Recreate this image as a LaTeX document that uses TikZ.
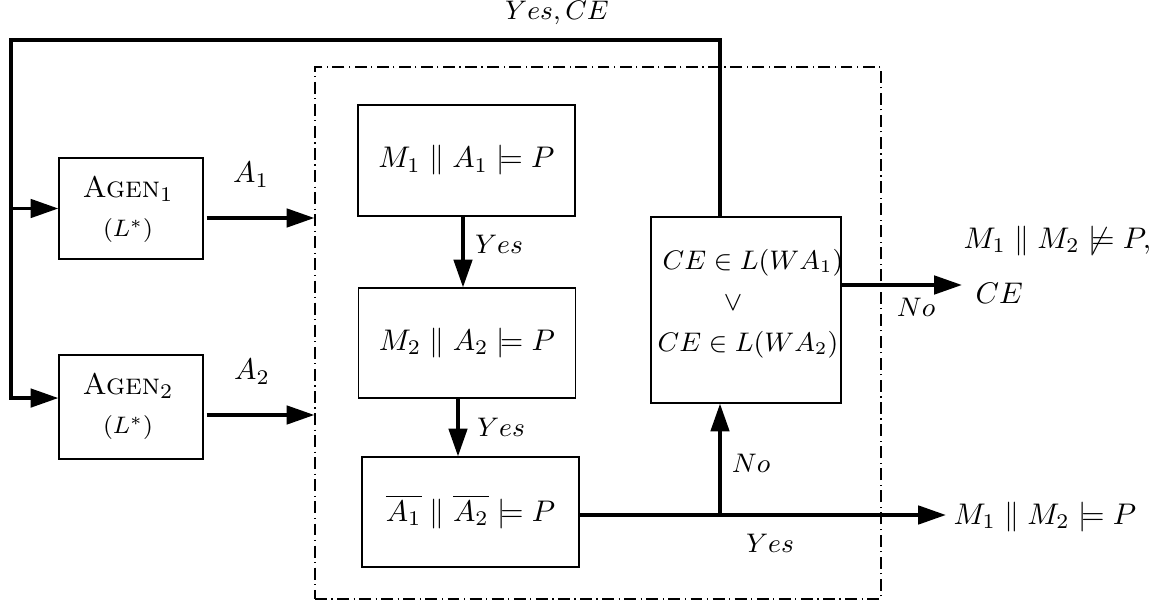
\documentclass[tikz,border=0pt]{standalone}
\usetikzlibrary{arrows.meta,calc}
\begin{document}
\begin{tikzpicture}[x=0.335pt,y=-0.335pt,
  box/.style args={#1/#2}{draw,line width=0.45pt,inner sep=0pt,
    minimum width=#1*0.335pt,minimum height=#2*0.335pt},
  txt/.style={inner sep=0pt},
  lab/.style={inner sep=0pt,font=\small},
  dbox/.style={dash pattern=on 4pt off 1.5pt on 0.4pt off 1.5pt},
  line/.style={line width=1.1pt},
  flow/.style={line width=1.1pt,-{Triangle[length=9.3pt,width=6.2pt]}}]
\useasboundingbox (0,0) rectangle (1164,605);

% dashed enclosure
\node[box=566/532,dbox] (db) at (598,333) {};

% Agen boxes
\node[box=144/101] (ag1) at (131,208.5) {};
\node[txt] (ag1t) at (128,189) {\textsc{Agen}$_1$};
\node[txt,font=\footnotesize] (ag1l) at (128,231) {$(L^*)$};
\node[box=144/104] (ag2) at (131,407) {};
\node[txt] (ag2t) at (128,386) {\textsc{Agen}$_2$};
\node[txt,font=\footnotesize] (ag2l) at (128,428) {$(L^*)$};

% checking boxes
\node[box=217/111] (m1) at (466.5,160.5) {$M_1 \parallel A_1 \models P$};
\node[box=217/110] (m2) at (467,343) {$M_2 \parallel A_2 \models P$};
\node[box=217/110] (ab) at (470.5,512) {$\overline{A_1} \parallel \overline{A_2} \models P$};
\node[box=190/186] (ce) at (746,310) {};
\node[txt,font=\small] (ce1) at (753,263) {$CE \in L(WA_1)$};
\node[txt,font=\small] (ce2) at (733,303) {$\vee$};
\node[txt,font=\small] (ce3) at (748,345) {$CE \in L(WA_2)$};

% outputs
\node[txt,anchor=west] (r1) at (953,517) {$M_1 \parallel M_2 \models P$};
\node[txt,anchor=west] (r2) at (963,241) {$M_1 \parallel M_2 \not\models P,$};
\node[txt,anchor=west] (r3) at (975,293) {$CE$};

% coordinates
\coordinate (j) at (720,515);
\coordinate (tl) at (11,40);
\coordinate (x1) at (463,0);
\coordinate (x2) at (458,0);
\coordinate (ny) at (0,285);

% connectors
\draw[flow] ($(ag1.east)+(3,9.5)$) coordinate (a1s) -- (a1s -| db.west);
\draw[flow] ($(ag2.east)+(3,8)$) coordinate (a2s) -- (a2s -| db.west);
\draw[flow] (m1.south -| x1) -- (m2.north -| x1);
\draw[flow] (m2.south -| x2) -- (ab.north -| x2);
\draw[flow] (ab.east |- j) -- ([xshift=-2.4pt]r1.west |- j);
\draw[flow] (j) -- (j |- ce.south);
\draw[flow] (ce.east |- ny) -- ([xshift=-4.4pt]r3.west |- ny);
\draw[flow] (j |- ce.north) |- (tl) |- ([yshift=3pt]ag2.west);
\draw[flow] (tl |- ag1.west) -- (ag1.west);

% labels
\node[txt] (la1) at (251,175) {$A_1$};
\node[txt] (la2) at (252,372) {$A_2$};
\node[lab] (y1) at (499,244) {$Yes$};
\node[lab] (y2) at (501,427) {$Yes$};
\node[lab] (y3) at (770,543) {$Yes$};
\node[lab] (n1) at (751,463) {$No$};
\node[lab] (n2) at (916,307) {$No$};
\node[lab] (yce) at (557,13) {$Yes, CE$};
\end{tikzpicture}
\end{document}
